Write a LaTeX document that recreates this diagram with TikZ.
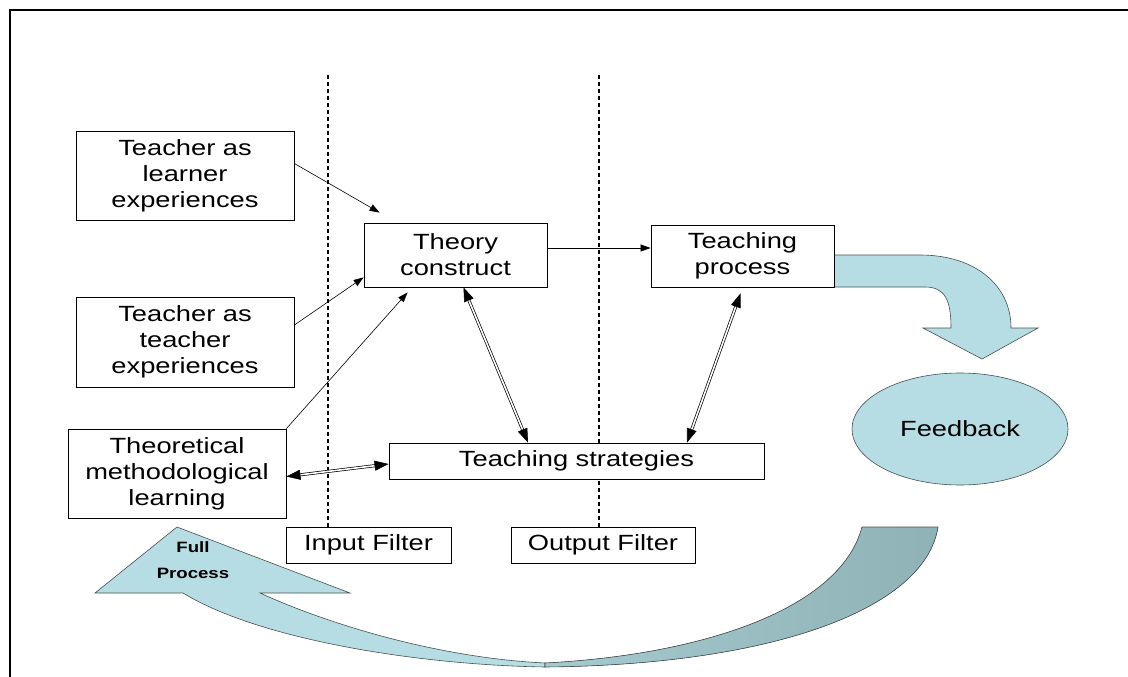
\documentclass[tikz,border=0pt]{standalone}
\usepackage{fontspec}
\setmainfont{Liberation Sans}[FakeStretch=1.24]
\usetikzlibrary{arrows.meta,shapes.geometric,calc}
\definecolor{flowfill}{RGB}{182,221,227}
\definecolor{flowdark}{RGB}{143,178,182}
\definecolor{flowedge}{RGB}{70,80,82}
\tikzset{
  box/.style={draw, fill=white, line width=0.8pt, align=center, inner sep=0pt,
    font=\fontsize{22}{26}\selectfont},
  filterline/.style={dash pattern=on 4pt off 3pt, line width=1.2pt},
  thinarrow/.style={-{Triangle[length=10pt,width=7pt]}, line width=0.6pt},
  tiparrow/.style={-{Triangle[length=14pt,width=10pt]}, line width=0.6pt},
  dblline/.style={double, double distance=1.6pt, line width=0.7pt, shorten <=10pt, shorten >=10pt},
  band/.style={draw=flowedge, line width=0.6pt}
}
\begin{document}
\begin{tikzpicture}[x=1pt,y=-1pt]
\useasboundingbox (0,0) rectangle (1128,677);
% frame
\draw[line width=1.5pt] (1128,10) -- (10,10) -- (10,677);

% filter lines
\coordinate (intop) at (328,75);
\coordinate (outtop) at (599,75);
\node[box, minimum width=165pt, minimum height=36pt] (infil) at (368.5,545) {Input Filter};
\node[box, minimum width=184pt, minimum height=36pt] (outfil) at (603,545) {Output Filter};
\draw[filterline] (intop) -- (intop |- infil.north);
\draw[filterline] (outtop) -- (outtop |- outfil.north);

% big arrows
\filldraw[band, fill=flowfill] (920,255) .. controls (975,255) and (1011,285) .. (1011,328)
  -- (1038,328) -- (982,359) -- (923,328) -- (951,328)
  .. controls (951,300) and (945,287) .. (925,287) -- (834,287) -- (834,255) -- cycle;
\filldraw[band, fill=flowfill] (177,527) -- (350,593) -- (260,593)
  .. controls (330,625) and (440,658) .. (545,663) -- (545,667)
  .. controls (420,665) and (260,640) .. (183,593) -- (95,593) -- cycle;
\filldraw[band, left color=flowfill!55!flowdark, right color=flowdark]
  (545,663) .. controls (700,655) and (840,610) .. (862,527) -- (938,527)
  .. controls (925,610) and (770,665) .. (545,667) -- cycle;
\node[font=\bfseries\fontsize{15}{26}\selectfont, align=center, inner sep=0pt] (fullp) at (193,560) {Full\\Process};

% boxes
\node[box, minimum width=218pt, minimum height=89pt] (lrn) at (185,175.5) {Teacher as\\learner\\experiences};
\node[box, minimum width=218pt, minimum height=90pt] (tch) at (185,342) {Teacher as\\teacher\\experiences};
\node[box, minimum width=218pt, minimum height=89pt] (thm) at (177,473.5) {Theoretical\\methodological\\learning};
\node[box, minimum width=183pt, minimum height=64pt] (thc) at (455.5,255) {Theory\\construct};
\node[box, minimum width=183pt, minimum height=62pt] (tproc) at (742.5,256) {Teaching\\process};
\node[box, minimum width=375pt, minimum height=36pt] (tstrat) at (576.5,461) {Teaching strategies};
\node[ellipse, draw=flowedge, fill=flowfill, line width=0.6pt, minimum width=216pt,
  minimum height=112pt, inner sep=0pt, font=\fontsize{22}{26}\selectfont] (fb) at (960,429) {Feedback};

% connectors
\draw[thinarrow] ([yshift=12pt]lrn.east) -- ([xshift=16pt,yshift=10pt]thc.north west);
\draw[thinarrow] ([yshift=17pt]tch.east) -- ([yshift=10pt]thc.south west);
\draw[thinarrow] (thm.north east) -- ([xshift=44pt,yshift=-5pt]thc.south west);
\draw[thinarrow] ([yshift=7pt]thc.east) -- ([yshift=7pt]thc.east -| tproc.west);

% two-way links
\coordinate (thcS) at ([xshift=8pt]thc.south);
\coordinate (tsL) at ([xshift=-48.5pt]tstrat.north);
\coordinate (tprocS) at ([xshift=-2pt,yshift=-6pt]tproc.south);
\coordinate (tsR) at ([xshift=110.5pt]tstrat.north);
\coordinate (thmE) at ([yshift=-3pt]thm.east);
\coordinate (tsW) at ([yshift=-3pt]tstrat.west);
\foreach \s/\e in {thcS/tsL, tprocS/tsR, thmE/tsW} {
  \draw[dblline] (\s) -- (\e);
  \draw[tiparrow] ($(\s)!14pt!(\e)$) -- (\s);
  \draw[tiparrow] ($(\e)!14pt!(\s)$) -- (\e);
}
\end{tikzpicture}
\end{document}
